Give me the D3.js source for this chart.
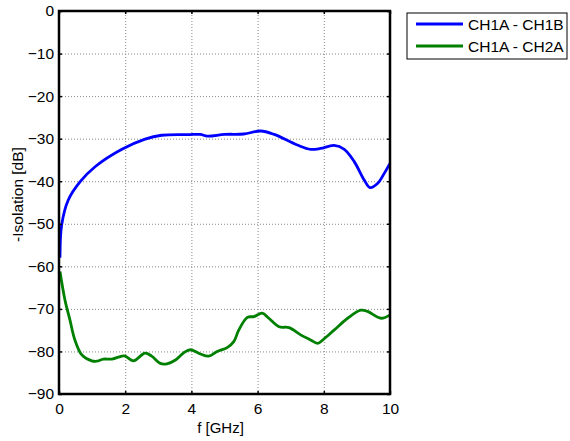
<!DOCTYPE html>
<html>
<head>
<meta charset="utf-8">
<script src="https://cdn.jsdelivr.net/npm/d3@7"></script>
<style>
  body { margin: 0; background: #fff; }
  svg text { font-family: "Liberation Sans", Arial, sans-serif; }
  .grid line { stroke: #888; stroke-dasharray: 1,2; stroke-width: 1; }
  .grid path { display: none; }
</style>
</head>
<body>
<div id="d3-target"></div>
<script>
// frequency (GHz) / isolation (dB)
const freqA = [0.03, 0.08, 0.28, 0.64, 1.09, 1.9, 2.6, 3.1, 3.9, 4.27, 4.48, 5.0, 5.58, 6.09, 6.5, 7.2, 7.6, 7.9, 8.31, 8.62, 8.92, 9.22, 9.4, 9.63, 9.83, 10];
const isoA  = [-58.0, -50.3, -44.4, -40.1, -36.6, -32.5, -30.1, -29.2, -29.05, -29.0, -29.4, -29.0, -28.9, -28.2, -29.0, -31.5, -32.5, -32.3, -31.6, -32.5, -35.4, -39.7, -41.5, -40.5, -38.1, -35.8];

const freqB = [0.03, 0.18, 0.33, 0.48, 0.69, 0.99, 1.14, 1.34, 1.6, 1.9, 2.0, 2.25, 2.6, 2.8, 3.06, 3.26, 3.52, 3.77, 3.97, 4.27, 4.52, 4.78, 5.08, 5.28, 5.43, 5.69, 5.89, 6.14, 6.34, 6.65, 6.95, 7.3, 7.6, 7.81, 8.0, 8.31, 8.72, 9.12, 9.32, 9.73, 10];
const isoB  = [-61.2, -67.9, -72.6, -77.3, -80.8, -82.2, -82.3, -81.8, -81.8, -81.1, -81.1, -82.2, -80.4, -81.1, -82.8, -82.9, -82.0, -80.3, -79.6, -80.6, -81.1, -80.0, -79.1, -77.7, -75.0, -72.0, -71.8, -71.0, -72.2, -74.2, -74.4, -76.1, -77.3, -78.1, -77.1, -75.0, -72.2, -70.3, -70.6, -72.2, -71.4];

const seriesNames = ['CH1A - CH1B', 'CH1A - CH2A'];
const seriesColors = ['#0000ff', '#008000'];
const xTicks = [0, 2, 4, 6, 8, 10];
const yTicks = [0, -10, -20, -30, -40, -50, -60, -70, -80, -90];

const margin = {top: 11, right: 180, bottom: 47, left: 59},
  width = 570 - margin.left - margin.right,
  height = 441 - margin.top - margin.bottom;

const x = d3.scaleLinear().domain([0, 10]).range([0, width]);
const y = d3.scaleLinear().domain([-90, 0]).range([height, 0]);

const svgTop = d3.select('#d3-target')
  .append('svg')
  .attr('width', 570)
  .attr('height', 441);
const svg = svgTop.append('g')
  .attr('transform', `translate(${margin.left},${margin.top})`);

// grid
svg.append('g')
  .attr('class', 'grid')
  .attr('transform', `translate(0,${height})`)
  .call(d3.axisBottom(x).tickValues(xTicks).tickSize(-height).tickFormat(''));
svg.append('g')
  .attr('class', 'grid')
  .call(d3.axisLeft(y).tickValues(yTicks).tickSize(-width).tickFormat(''));

// lines
const line = d3.line()
  .x(d => x(d[0]))
  .y(d => y(d[1]))
  .curve(d3.curveCatmullRom);

const series = [d3.zip(freqA, isoA), d3.zip(freqB, isoB)];
svg.selectAll('.series')
  .data(series)
  .enter().append('path')
    .attr('class', 'series')
    .attr('fill', 'none')
    .attr('stroke', (d, i) => seriesColors[i])
    .attr('stroke-width', 2.8)
    .attr('stroke-linejoin', 'round')
    .attr('d', line);

// axes: inward ticks on all four sides
const styleAxis = g => {
  g.select('.domain').remove();
  g.selectAll('.tick line').attr('stroke', '#000').attr('stroke-width', 1.5);
  g.selectAll('.tick text').attr('font-size', 15.5).attr('fill', '#000')
    .attr('font-family', '"Liberation Sans", Arial, sans-serif');
};

svg.append('g')
  .attr('transform', `translate(0,${height})`)
  .call(d3.axisBottom(x).tickValues(xTicks).tickSizeInner(-3).tickSizeOuter(0).tickPadding(9))
  .call(styleAxis);
svg.append('g')
  .call(d3.axisLeft(y).tickValues(yTicks).tickSizeInner(-3).tickSizeOuter(0).tickPadding(5))
  .call(styleAxis);
svg.append('g')
  .call(d3.axisTop(x).tickValues(xTicks).tickSizeInner(-3).tickSizeOuter(0).tickFormat(''))
  .call(styleAxis);
svg.append('g')
  .attr('transform', `translate(${width},0)`)
  .call(d3.axisRight(y).tickValues(yTicks).tickSizeInner(-3).tickSizeOuter(0).tickFormat(''))
  .call(styleAxis);

svg.append('rect')
  .attr('width', width)
  .attr('height', height)
  .attr('fill', 'none')
  .attr('stroke', '#000')
  .attr('stroke-width', 2.5);

// axis labels
svg.append('text')
  .attr('x', width / 2 - 4)
  .attr('y', height + 39)
  .attr('text-anchor', 'middle')
  .attr('font-size', 15)
  .text('f [GHz]');
svg.append('text')
  .attr('transform', `translate(-36,${height / 2 - 8}) rotate(-90)`)
  .attr('text-anchor', 'middle')
  .attr('font-size', 15.5)
  .text('-Isolation [dB]');

// legend
const legend = svgTop.append('g')
  .attr('transform', 'translate(407,13)');
legend.append('rect')
  .attr('width', 160)
  .attr('height', 46)
  .attr('fill', '#fff')
  .attr('stroke', '#000')
  .attr('stroke-width', 1);
const items = legend.selectAll('.legend-line')
  .data(seriesNames)
  .enter().append('g')
    .attr('class', 'legend-line')
    .attr('transform', (d, i) => `translate(0,${11 + 22 * i})`);
items.append('line')
  .attr('x1', 9).attr('x2', 56)
  .attr('stroke', (d, i) => seriesColors[i])
  .attr('stroke-width', 2.8);
items.append('text')
  .attr('x', 61)
  .attr('y', 5.5)
  .attr('font-size', 15.5)
  .text(d => d);
</script>
</body>
</html>
